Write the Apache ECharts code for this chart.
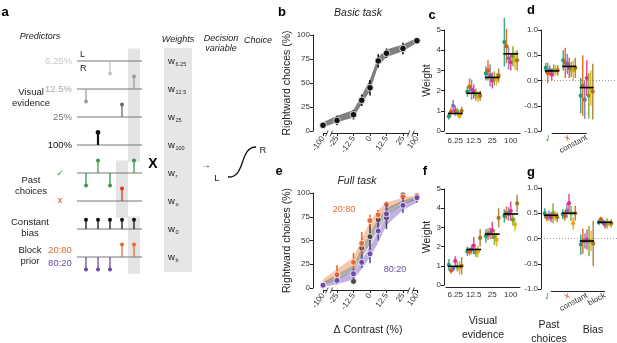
<!DOCTYPE html>
<html>
<head>
<meta charset="utf-8">
<script src="https://cdn.jsdelivr.net/npm/echarts@6.0.0/dist/echarts.min.js"></script>
<style>
  html, body { margin: 0; padding: 0; background: #fff; }
  #chart { width: 617px; height: 343px; }
</style>
</head>
<body>
<div id="chart"></div>
<script>
const FONT = '"Liberation Sans", "DejaVu Sans", Arial, sans-serif'

// ---- panel a: schematic predictors ----
const predictorRows = ['6.25%', '12.5%', '25%', '100%', '✓', 'x', 'constant', 'block']
const trials = [1, 2, 3, 4, 5]
// [trial, row, direction (1 = up, -1 = down)]
const stems = [
  [3, 0, -1], [1, 1, -1], [5, 1, 1], [4, 2, 1], [2, 3, 1],
  [1, 4, -1], [2, 4, 1], [3, 4, -1], [5, 4, 1], [4, 5, 1],
  [1, 6, 1], [2, 6, 1], [3, 6, 1], [4, 6, 1], [5, 6, 1],
  [1, 7, -1], [2, 7, -1], [3, 7, -1], [4, 7, 1], [5, 7, 1],
]
// [trial, first row, last row] highlighted
const shadedSpans = [[5, 0, 3], [4, 4, 5], [5, 6, 7]]
const weightSubs = ['6.25', '12.5', '25', '100', 'r', 'u', '0', 'b']

// ---- panels b, e: psychometric curves ----
const contrasts = [-100, -25, -12.5, -6.25, 0, 6.25, 12.5, 25, 100]
const contrastTicks = [-100, -25, -12.5, 0, 12.5, 25, 100]
const basicMean = [6, 11, 17, 32, 45, 73, 81, 86, 94]
const basicErr = [3, 5, 5, 6, 8, 7, 5, 6, 3]
const basicLo = [4, 9, 14, 28, 42, 68, 77, 83, 92]
const basicHi = [9, 16, 22, 37, 54, 77, 85, 90, 97]

const fullGray = [3, 13, 7, 42, 54, 72, 74, 98, 95]
const fullGrayErr = [2, 5, 3, 10, 13, 10, 12, 2, 5]
const fullOrange = [3, 14, 27, 47, 71, 77, 88, 96, 97]
const fullOrangeErr = [2, 10, 10, 12, 6, 5, 3, 2, 2]
const fullPurple = [3, 8, 15, 27, 36, 60, 78, 87, 95]
const fullPurpleErr = [2, 4, 6, 6, 10, 10, 10, 8, 4]
const orangeLo = [4, 13, 24, 40, 57, 70, 82, 91, 95]
const orangeHi = [9, 20, 32, 52, 70, 82, 90, 95, 98]
const grayLo = [3, 9, 17, 32, 46, 62, 76, 88, 93]
const grayHi = [6, 14, 24, 42, 58, 72, 84, 92, 96]
const purpleLo = [1, 4, 9, 20, 32, 48, 66, 82, 90]
const purpleHi = [4, 10, 17, 30, 44, 60, 76, 89, 95]

// ---- panels c, f: visual weights (rows = contrast, cols = subjects) ----
const weightCats = ['6.25', '12.5', '25', '100']
const cWeights = [
  [0.72, 0.95, 1.25, 1.0, 0.95, 0.75, 1.0],
  [1.95, 2.2, 2.05, 1.95, 1.8, 1.7, 1.75],
  [2.85, 3.0, 2.75, 2.5, 2.6, 2.55, 2.75],
  [4.4, 4.2, 3.6, 3.4, 3.7, 3.5, 3.5],
]
const cErr = [
  [0.15, 0.2, 0.3, 0.25, 0.2, 0.15, 0.2],
  [0.25, 0.4, 0.5, 0.35, 0.3, 0.25, 0.25],
  [0.35, 0.5, 0.55, 0.4, 0.35, 0.3, 0.35],
  [1.2, 0.85, 0.55, 0.4, 0.5, 0.45, 0.5],
]
const cMedian = [0.87, 1.87, 2.65, 3.82]
const fWeights = [
  [1.05, 0.75, 0.85, 1.25, 0.95, 0.9, 1.0],
  [1.75, 1.75, 1.85, 2.05, 1.7, 1.75, 2.45],
  [2.55, 2.65, 2.7, 2.85, 2.5, 2.35, 3.5],
  [3.6, 3.75, 3.7, 3.85, 3.4, 3.15, 4.25],
]
const fErr = [
  [0.3, 0.15, 0.15, 0.25, 0.25, 0.35, 0.45],
  [0.25, 0.2, 0.25, 0.45, 0.25, 0.3, 0.45],
  [0.35, 0.3, 0.3, 0.45, 0.4, 0.35, 0.5],
  [0.35, 0.35, 0.35, 0.5, 0.3, 0.35, 0.45],
]
const fMedian = [0.97, 1.85, 2.65, 3.7]

// ---- panels d, g: history / bias weights ----
const dCats = ['✓', 'x', 'constant']
const dWeights = [
  [0.25, 0.15, 0.2, 0.12, 0.2, 0.2, 0.2],
  [0.4, 0.35, 0.33, 0.25, 0.22, 0.2, 0.25],
  [-0.3, -0.1, -0.38, 0.05, -0.3, -0.15, -0.22],
]
const dErr = [
  [0.1, 0.2, 0.1, 0.12, 0.12, 0.1, 0.1],
  [0.2, 0.3, 0.2, 0.2, 0.15, 0.2, 0.2],
  [0.35, 0.6, 0.38, 0.35, 0.45, 0.35, 0.55],
]
const dMedian = [0.19, 0.28, -0.14]
const gCats = ['✓', 'x', 'constant', 'block']
const gWeights = [
  [0.5, 0.42, 0.45, 0.42, 0.5, 0.45, 0.42],
  [0.48, 0.45, 0.55, 0.7, 0.5, 0.3, 0.5],
  [-0.12, -0.05, -0.05, -0.02, -0.05, -0.05, -0.1],
  [0.32, 0.38, 0.32, 0.28, 0.3, 0.3, 0.3],
]
const gErr = [
  [0.1, 0.08, 0.1, 0.1, 0.2, 0.1, 0.1],
  [0.1, 0.1, 0.15, 0.18, 0.15, 0.12, 0.15],
  [0.2, 0.25, 0.15, 0.2, 0.3, 0.2, 0.45],
  [0.06, 0.05, 0.06, 0.08, 0.1, 0.06, 0.08],
]
const gMedian = [0.46, 0.5, -0.05, 0.32]

const subjColors = ['#1b9e77', '#d95f02', '#7570b3', '#e7298a', '#66a61e', '#e6ab02', '#a6761d']
const GREEN = '#3a9a48', RED = '#e0342c', ORANGE = '#e8692d', PURPLE = '#6b4aa8'

// contrast -> position on the broken axis (±100 sits just past ±25)
const xpos = c => (Math.abs(c) > 50 ? Math.sign(c) * 35.6 : c)
const tickPos = contrastTicks.map(xpos)

// ---------- axes ----------
const axisColor = '#222'
const lbl = { fontSize: 8, color: '#333', fontFamily: FONT }
const nameStyle = { fontSize: 10.5, color: '#222', fontFamily: FONT }

function psychX(g, name) {
  return {
    gridIndex: g, type: 'value', min: -39.4, max: 36.4, offset: 2,
    axisLine: { show: false, onZero: false },
    axisTick: { customValues: tickPos, length: 3, lineStyle: { color: axisColor } },
    axisLabel: Object.assign({}, lbl, {
      customValues: tickPos, rotate: 55, margin: 4,
      formatter: v => {
        const i = tickPos.findIndex(p => Math.abs(p - v) < 0.01)
        return i < 0 ? '' : String(contrastTicks[i])
      },
    }),
    splitLine: { show: false },
    name: name || '', nameLocation: 'middle', nameGap: 35, nameTextStyle: nameStyle,
  }
}
function valueY(g, min, max, interval, offset, name, gap, fmt) {
  return {
    gridIndex: g, type: 'value', min, max, interval, offset,
    axisLine: { show: true, onZero: false, lineStyle: { color: axisColor } },
    axisTick: { show: true, length: 3, lineStyle: { color: axisColor } },
    axisLabel: Object.assign({}, lbl, { margin: 3, formatter: fmt }),
    splitLine: { show: false },
    name: name || '', nameLocation: 'middle', nameGap: gap || 10, nameTextStyle: nameStyle,
  }
}
function catX(g, cats, rotate, name, trimmed) {
  return {
    gridIndex: g, type: 'category', data: cats, offset: 2,
    axisLine: { show: !trimmed, onZero: false, lineStyle: { color: axisColor } },
    axisTick: { alignWithLabel: true, length: 3, lineStyle: { color: axisColor } },
    axisLabel: Object.assign({}, lbl, {
      interval: 0, rotate: rotate || 0, margin: 4,
      formatter: v => (v === '✓' ? '{g|✓}' : v === 'x' ? '{r|x}' : v),
      rich: { g: { color: GREEN, fontSize: 9, fontFamily: FONT }, r: { color: RED, fontSize: 9, fontFamily: FONT } },
    }),
    name: name || '', nameLocation: 'middle', nameGap: 27,
    nameTextStyle: Object.assign({}, nameStyle, { lineHeight: 14 }),
  }
}

const grid = [
  { left: 74, top: 47, width: 72, height: 224 },     // a
  { left: 318, top: 35, width: 100, height: 96 },    // b
  { left: 318, top: 193, width: 100, height: 95 },   // e
  { left: 446, top: 30, width: 74, height: 101 },    // c
  { left: 446, top: 189, width: 74, height: 101 },   // f
  { left: 543, top: 30, width: 52.5, height: 101 },  // d
  { left: 542, top: 188, width: 72, height: 101 },   // g
]
const xAxis = [
  { gridIndex: 0, type: 'value', min: 0, max: 6, show: false },
  psychX(1),
  psychX(2, 'Δ Contrast (%)'),
  catX(3, weightCats),
  catX(4, weightCats, 0, 'Visual\nevidence'),
  catX(5, dCats, 28, '', true),
  catX(6, gCats, 28, '', true),
]
const fmt1 = v => v.toFixed(1)
const yAxis = [
  { gridIndex: 0, type: 'value', min: -0.5, max: 7.5, inverse: true, show: false },
  valueY(1, 0, 100, 25, 5, 'Rightward choices (%)', 20),
  valueY(2, 0, 100, 25, 5, 'Rightward choices (%)', 20),
  valueY(3, 0, 5, 1, 2, 'Weight', 11),
  valueY(4, 0, 5, 1, 2, 'Weight', 11),
  valueY(5, -1, 1, 0.5, 2, '', 10, fmt1),
  valueY(6, -1, 1, 0.5, 1, '', 10, fmt1),
]

// ---------- series builders ----------
const series = []
const on = g => ({ type: 'custom', xAxisIndex: g, yAxisIndex: g, clip: false, silent: true })

// panel a
series.push(Object.assign(on(0), {
  data: shadedSpans,
  renderItem: (p, api) => {
    const a = api.coord([api.value(0) - 0.5, api.value(1) - 0.45])
    const b = api.coord([api.value(0) + 0.5, api.value(2) + 0.6])
    return { type: 'rect', shape: { x: a[0], y: a[1], width: b[0] - a[0], height: b[1] - a[1] }, style: { fill: '#e4e4e4' } }
  },
}))
series.push(Object.assign(on(0), {
  data: predictorRows.map((r, i) => [i]),
  renderItem: (p, api) => {
    const a = api.coord([0.25, api.value(0)]), b = api.coord([trials.length + 0.67, api.value(0)])
    return { type: 'line', shape: { x1: a[0], y1: a[1], x2: b[0], y2: b[1] }, style: { stroke: '#777', lineWidth: 1 } }
  },
}))
const rowColors = ['#c4c4c4', '#9c9c9c', '#6a6a6a', '#111', GREEN, RED, '#111', ORANGE]
series.push(Object.assign(on(0), {
  data: stems,
  renderItem: (p, api) => {
    const t = api.value(0), r = api.value(1), d = api.value(2)
    const len = r === 6 ? 0.33 : 0.45
    const base = api.coord([t, r]), tip = api.coord([t, r - d * len])
    const col = r === 7 && d < 0 ? PURPLE : rowColors[r]
    const w = r === 3 ? 2.2 : 1.3
    return {
      type: 'group', children: [
        { type: 'line', shape: { x1: base[0], y1: base[1], x2: tip[0], y2: tip[1] }, style: { stroke: col, lineWidth: w } },
        { type: 'circle', shape: { cx: tip[0], cy: tip[1], r: r === 3 ? 2.4 : 2 }, style: { fill: col } },
      ],
    }
  },
}))

// x axis line drawn only between the first and last tick
function trimmedAxis(g, from, to, yVal) {
  return Object.assign(on(g), {
    data: [[from, to, yVal]],
    renderItem: (p, api) => {
      const a = api.coord([api.value(0), api.value(2)]), b = api.coord([api.value(1), api.value(2)])
      return { type: 'line', shape: { x1: a[0], y1: a[1] + 2.5, x2: b[0], y2: b[1] + 2.5 }, style: { stroke: axisColor, lineWidth: 1 } }
    },
  })
}

// psychometric bands and points
function band(g, lo, hi, color) {
  return Object.assign(on(g), {
    data: [[0, 0]],
    renderItem: (p, api) => {
      const pts = contrasts.map((c, i) => api.coord([xpos(c), hi[i]]))
      for (let i = contrasts.length - 1; i >= 0; i--) pts.push(api.coord([xpos(contrasts[i]), lo[i]]))
      return { type: 'polygon', shape: { points: pts }, style: { fill: color } }
    },
  })
}
function points(g, means, errs, color, r) {
  return Object.assign(on(g), {
    data: contrasts.map((c, i) => [xpos(c), means[i], errs[i]]),
    renderItem: (p, api) => {
      const x = api.value(0), y = api.value(1), e = api.value(2)
      const c = api.coord([x, y]), t = api.coord([x, y + e]), b = api.coord([x, Math.max(0, y - e)])
      return {
        type: 'group', children: [
          { type: 'line', shape: { x1: c[0], y1: t[1], x2: c[0], y2: b[1] }, style: { stroke: color, lineWidth: 1.6 } },
          { type: 'circle', shape: { cx: c[0], cy: c[1], r }, style: { fill: color, stroke: '#fff', lineWidth: 0.8 } },
        ],
      }
    },
  })
}
function breaks(g) {
  return Object.assign(on(g), {
    data: [[-31], [31]],
    z: 5,
    renderItem: (p, api) => {
      const c = api.coord([api.value(0), 0])
      const y = c[1] + 2.5, x = c[0]
      return {
        type: 'group', children: [
          { type: 'rect', shape: { x: x - 2, y: y - 2, width: 4, height: 4 }, style: { fill: '#fff' } },
          { type: 'line', shape: { x1: x - 3.5, y1: y + 3, x2: x - 1, y2: y - 3 }, style: { stroke: '#222', lineWidth: 0.8 } },
          { type: 'line', shape: { x1: x + 1, y1: y + 3, x2: x + 3.5, y2: y - 3 }, style: { stroke: '#222', lineWidth: 0.8 } },
        ],
      }
    },
  })
}
series.push(trimmedAxis(1, xpos(-100), xpos(100), 0))
series.push(band(1, basicLo, basicHi, '#808080'))
series.push(points(1, basicMean, basicErr, '#111', 3.3))
series.push(breaks(1))
series.push(trimmedAxis(2, xpos(-100), xpos(100), 0))
series.push(band(2, orangeLo, orangeHi, 'rgba(240,160,115,0.6)'))
series.push(band(2, purpleLo, purpleHi, 'rgba(150,125,205,0.6)'))
series.push(band(2, grayLo, grayHi, 'rgba(110,110,110,0.55)'))
series.push(points(2, fullGray, fullGrayErr, '#474747', 3))
series.push(points(2, fullOrange, fullOrangeErr, ORANGE, 3))
series.push(points(2, fullPurple, fullPurpleErr, PURPLE, 3))
series.push(breaks(2))
series.push(trimmedAxis(5, 0, dCats.length - 1, -1))
series.push(trimmedAxis(6, 0, gCats.length - 1, -1))

// subject weights
function subjects(g, rows, errs, median, zeroLine) {
  const data = []
  rows.forEach((vals, cat) => vals.forEach((v, s) => data.push([cat, v, errs[cat][s], s])))
  if (zeroLine) {
    series.push(Object.assign(on(g), {
      data: [[0, 0]],
      renderItem: (p, api) => {
        const c = api.coord([0, 0])
        return { type: 'line', shape: { x1: p.coordSys.x - 1, y1: c[1], x2: 617, y2: c[1] }, style: { stroke: '#999', lineWidth: 1, lineDash: [1, 2] } }
      },
    }))
  }
  series.push(Object.assign(on(g), {
    data,
    renderItem: (p, api) => {
      const cat = api.value(0), v = api.value(1), e = api.value(2), s = api.value(3)
      const bw = api.size([1, 0])[0]
      const c = api.coord([cat, v]), t = api.coord([cat, v + e]), b = api.coord([cat, v - e])
      const x = c[0] + (s - 3) * bw * 0.115
      const col = subjColors[s]
      return {
        type: 'group', children: [
          { type: 'line', shape: { x1: x, y1: t[1], x2: x, y2: b[1] }, style: { stroke: col, lineWidth: 1.5, opacity: 0.85 } },
          { type: 'circle', shape: { cx: x, cy: c[1], r: 2.1 }, style: { fill: col } },
        ],
      }
    },
  }))
  series.push(Object.assign(on(g), {
    data: median.map((m, i) => [i, m]),
    z: 4,
    renderItem: (p, api) => {
      const bw = api.size([1, 0])[0]
      const c = api.coord([api.value(0), api.value(1)])
      return { type: 'line', shape: { x1: c[0] - bw * 0.4, y1: c[1], x2: c[0] + bw * 0.4, y2: c[1] }, style: { stroke: '#000', lineWidth: 1.6 } }
    },
  }))
}
subjects(3, cWeights, cErr, cMedian)
subjects(4, fWeights, fErr, fMedian)
subjects(5, dWeights, dErr, dMedian, true)
subjects(6, gWeights, gErr, gMedian, true)

// ---------- texts ----------
function txt(x, y, text, o) {
  return {
    type: 'text', x, y, silent: true, z: 10,
    style: Object.assign({ text, fill: '#222', fontSize: 9.5, fontFamily: FONT, align: 'center', verticalAlign: 'middle' }, o || {}),
  }
}
const B = { fontSize: 13, fontWeight: 'bold', fill: '#000' }
const I = { fontStyle: 'italic', fontSize: 9 }
const graphic = [
  { type: 'rect', shape: { x: 164, y: 48, width: 28, height: 224 }, style: { fill: '#e6e6e6' }, z: 0, silent: true },
  txt(5, 12, 'a', B), txt(282, 12, 'b', B), txt(432, 15, 'c', B), txt(531, 10, 'd', B),
  txt(279, 171, 'e', B), txt(425, 171, 'f', B), txt(531, 172, 'g', B),
  txt(40, 36, 'Predictors', I),
  txt(80, 55, 'L', { align: 'left', fontSize: 9 }), txt(80, 69, 'R', { align: 'left', fontSize: 9 }),
  txt(72, 61, '6.25%', { align: 'right', fill: '#c8c8c8' }),
  txt(72, 89, '12.5%', { align: 'right', fill: '#a8a8a8' }),
  txt(72, 117, '25%', { align: 'right', fill: '#777' }),
  txt(72, 145, '100%', { align: 'right', fill: '#111' }),
  txt(60, 174, '✓', { fill: GREEN, fontSize: 9 }),
  txt(60, 201, 'x', { fill: RED, fontSize: 9 }),
  txt(31, 98, 'Visual\nevidence', { lineHeight: 11.5 }),
  txt(31, 186, 'Past\nchoices', { lineHeight: 11.5 }),
  txt(30, 228, 'Constant\nbias', { lineHeight: 11.5 }),
  txt(30, 256, 'Block\nprior', { lineHeight: 11.5 }),
  txt(60, 250, '20:80', { fill: ORANGE }),
  txt(60, 263, '80:20', { fill: PURPLE }),
  txt(153, 164, 'X', { fontSize: 14, fontWeight: 'bold', fill: '#000' }),
  txt(178, 39, 'Weights', I),
  txt(221, 43, 'Decision\nvariable', Object.assign({ lineHeight: 10 }, I)),
  txt(258, 40, 'Choice', I),
  txt(206, 165, '→', { fontSize: 10 }),
  txt(217, 178, 'L'), txt(263, 150, 'R'),
  { type: 'bezierCurve', silent: true, shape: { x1: 228, y1: 177, cpx1: 246, cpy1: 178, cpx2: 239, cpy2: 147, x2: 256, y2: 147 },
    style: { stroke: '#111', lineWidth: 1.3, fill: null } },
  txt(358, 13, 'Basic task', { fontStyle: 'italic', fontSize: 10.5 }),
  txt(357, 181, 'Full task', { fontStyle: 'italic', fontSize: 10.5 }),
  txt(344, 210, '20:80', { fill: ORANGE, fontSize: 9 }),
  txt(395, 270, '80:20', { fill: PURPLE, fontSize: 9 }),
  txt(549, 332, 'Past\nchoices', { fontSize: 10.5, lineHeight: 14 }),
  txt(593, 330, 'Bias', { fontSize: 10.5 }),
]
weightSubs.forEach((s, i) => {
  const y = 61 + 28 * i
  graphic.push(txt(168, y, 'w', { align: 'left', fontSize: 9.5 }))
  graphic.push(txt(175.5, y + 3, s, { align: 'left', fontSize: 5.5 }))
})

const chart = echarts.init(document.getElementById('chart'))
chart.setOption({
  animation: false,
  backgroundColor: '#fff',
  textStyle: { fontFamily: FONT },
  grid, xAxis, yAxis, series, graphic,
})
</script>
</body>
</html>
